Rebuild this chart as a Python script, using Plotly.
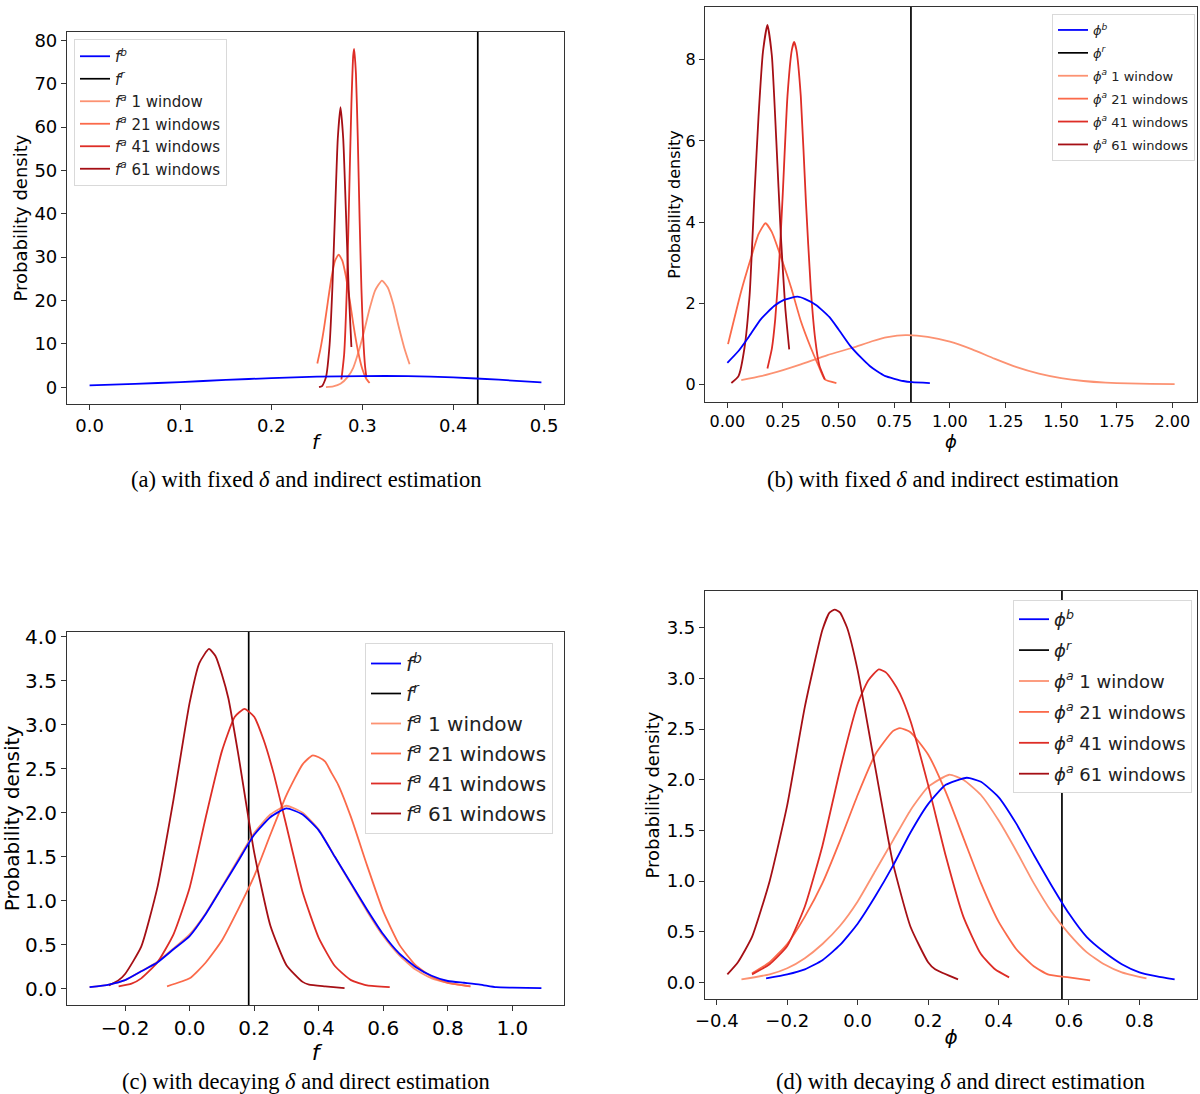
import plotly.graph_objects as go

# ---------- data ----------
# (a) fixed delta, indirect estimation: f
a_b_x = [0.0, 0.05, 0.1, 0.15, 0.2, 0.25, 0.3, 0.35, 0.4, 0.45, 0.497]
a_b_y = [0.46, 0.8, 1.2, 1.7, 2.12, 2.45, 2.6, 2.58, 2.3, 1.75, 1.15]
a_1_x = [0.26, 0.268, 0.276, 0.284, 0.29, 0.296, 0.302, 0.308, 0.314, 0.3216, 0.328, 0.334, 0.34, 0.346, 0.352]
a_1_y = [0.05, 0.2, 0.8, 2.4, 4.5, 8.3, 13.0, 18.1, 22.3, 24.6, 23.0, 19.2, 14.0, 9.2, 5.3]
a_21_x = [0.2505, 0.254, 0.258, 0.262, 0.266, 0.27, 0.274, 0.278, 0.282, 0.286, 0.29, 0.295, 0.30, 0.304, 0.308]
a_21_y = [5.5, 8.9, 13.8, 19.6, 25.2, 29.2, 30.6, 29.2, 25.5, 20.3, 14.7, 8.6, 4.2, 2.1, 1.0]
a_41_x = [0.277, 0.280, 0.283, 0.286, 0.288, 0.290, 0.291, 0.293, 0.295, 0.297, 0.299, 0.301, 0.303, 0.3045]
a_41_y = [1.8, 7.6, 22.8, 48.4, 65.3, 76.5, 78.0, 72.2, 57.6, 38.9, 22.8, 11.4, 4.9, 2.3]
a_61_x = [0.2524, 0.256, 0.26, 0.264, 0.267, 0.27, 0.273, 0.276, 0.279, 0.282, 0.285, 0.288]
a_61_y = [0.05, 0.35, 2.3, 9.8, 22.6, 40.3, 57.3, 64.6, 57.3, 40.3, 22.6, 9.3]
a_r = 0.427

# (b) fixed delta, indirect estimation: phi
b_b_x = [0.0, 0.05, 0.1, 0.15, 0.21, 0.25, 0.315, 0.35, 0.4, 0.458, 0.5, 0.553, 0.6, 0.64, 0.673, 0.71,
         0.75, 0.79, 0.83, 0.91]
b_b_y = [0.53, 0.82, 1.2, 1.6, 1.93, 2.07, 2.16, 2.1, 1.95, 1.66, 1.35, 0.94, 0.66, 0.45, 0.32, 0.2,
         0.135, 0.08, 0.05, 0.03]
b_1_x = [0.0625, 0.15, 0.25, 0.33, 0.45, 0.563, 0.65, 0.72, 0.8, 0.9, 1.0, 1.1, 1.2, 1.3, 1.4, 1.5, 1.6, 1.7, 1.8, 1.9, 2.01]
b_1_y = [0.1, 0.2, 0.35, 0.49, 0.72, 0.9, 1.06, 1.16, 1.21, 1.17, 1.05, 0.86, 0.63, 0.42, 0.26, 0.15, 0.08, 0.04, 0.02, 0.01, 0.005]
b_21_x = [0.003, 0.0625, 0.107, 0.14, 0.171, 0.2, 0.241, 0.286, 0.33, 0.375, 0.41, 0.438, 0.49]
b_21_y = [0.99, 2.3, 3.13, 3.7, 3.97, 3.75, 3.13, 2.39, 1.56, 0.9, 0.45, 0.12, 0.03]
b_41_x = [0.18, 0.2, 0.215, 0.232, 0.249, 0.27, 0.29, 0.30, 0.31, 0.33, 0.353, 0.375, 0.395, 0.413, 0.438]
b_41_y = [0.39, 0.88, 1.6, 2.9, 4.7, 7.1, 8.25, 8.44, 8.25, 7.1, 4.5, 2.35, 1.1, 0.47, 0.12]
b_61_x = [0.018, 0.05, 0.077, 0.1, 0.122, 0.14, 0.16, 0.18, 0.2, 0.22, 0.24, 0.26, 0.278]
b_61_y = [0.03, 0.2, 0.9, 2.2, 4.7, 6.6, 8.2, 8.86, 8.1, 6.0, 3.7, 1.9, 0.86]
b_r = 0.825

# (c) decaying delta, direct estimation: f
c_b_x = [-0.31, -0.25, -0.2, -0.15, -0.1, -0.05, 0.0, 0.05, 0.1, 0.15, 0.2, 0.25, 0.3, 0.35,
         0.4, 0.45, 0.5, 0.55, 0.6, 0.65, 0.7, 0.75, 0.8, 0.85, 0.9, 0.95, 1.0, 1.09]
c_b_y = [0.02, 0.05, 0.1, 0.2, 0.3, 0.45, 0.6, 0.85, 1.15, 1.45, 1.75, 1.95, 2.05, 1.98,
         1.8, 1.5, 1.2, 0.9, 0.62, 0.4, 0.25, 0.15, 0.09, 0.07, 0.05, 0.02, 0.015, 0.01]
c_1_x = [-0.31, -0.25, -0.2, -0.15, -0.1, -0.05, 0.0, 0.05, 0.1, 0.15, 0.2, 0.25, 0.3, 0.35,
         0.4, 0.45, 0.5, 0.55, 0.6, 0.65, 0.7, 0.75, 0.8, 0.87]
c_1_y = [0.02, 0.05, 0.1, 0.2, 0.31, 0.46, 0.62, 0.86, 1.16, 1.47, 1.77, 1.98, 2.08, 2.0,
         1.81, 1.5, 1.19, 0.88, 0.6, 0.38, 0.22, 0.12, 0.07, 0.03]
c_21_x = [-0.07, 0.0, 0.05, 0.1, 0.15, 0.2, 0.25, 0.3, 0.35, 0.38, 0.40, 0.42, 0.44, 0.46, 0.5, 0.55,
          0.6, 0.65, 0.7, 0.75, 0.8, 0.87]
c_21_y = [0.03, 0.12, 0.3, 0.55, 0.9, 1.28, 1.75, 2.2, 2.55, 2.65, 2.63, 2.58, 2.45, 2.32, 1.95, 1.4,
          0.88, 0.5, 0.27, 0.14, 0.07, 0.03]
c_41_x = [-0.22, -0.18, -0.15, -0.1, -0.05, 0.0, 0.05, 0.1, 0.14, 0.17, 0.2, 0.23, 0.26, 0.3,
          0.35, 0.4, 0.45, 0.5, 0.55, 0.62]
c_41_y = [0.03, 0.06, 0.12, 0.3, 0.62, 1.15, 1.95, 2.7, 3.09, 3.18, 3.09, 2.82, 2.45, 1.85,
          1.1, 0.58, 0.26, 0.1, 0.04, 0.02]
c_61_x = [-0.25, -0.22, -0.2, -0.15, -0.1, -0.05, 0.0, 0.03, 0.06, 0.08, 0.1, 0.12, 0.15, 0.2,
          0.25, 0.3, 0.35, 0.37, 0.42, 0.48]
c_61_y = [0.04, 0.1, 0.17, 0.48, 1.15, 2.15, 3.25, 3.7, 3.86, 3.78, 3.57, 3.3, 2.68, 1.55,
          0.72, 0.27, 0.08, 0.05, 0.03, 0.01]
c_r = 0.183

# (d) decaying delta, direct estimation: phi
d_b_x = [-0.26, -0.2, -0.15, -0.1, -0.05, 0.0, 0.05, 0.1, 0.15, 0.2, 0.25, 0.31, 0.35, 0.4,
         0.45, 0.5, 0.55, 0.6, 0.65, 0.7, 0.75, 0.8, 0.85, 0.9]
d_b_y = [0.04, 0.08, 0.13, 0.22, 0.37, 0.58, 0.85, 1.15, 1.48, 1.76, 1.95, 2.02, 1.98, 1.83,
         1.57, 1.26, 0.96, 0.68, 0.45, 0.3, 0.18, 0.1, 0.06, 0.03]
d_1_x = [-0.33, -0.25, -0.2, -0.15, -0.1, -0.05, 0.0, 0.05, 0.1, 0.15, 0.2, 0.26, 0.3, 0.35,
         0.4, 0.45, 0.5, 0.55, 0.6, 0.65, 0.7, 0.75, 0.82]
d_1_y = [0.03, 0.08, 0.14, 0.24, 0.38, 0.56, 0.8, 1.1, 1.4, 1.7, 1.93, 2.05, 2.0, 1.85,
         1.6, 1.3, 0.98, 0.7, 0.48, 0.3, 0.18, 0.1, 0.04]
d_21_x = [-0.3, -0.25, -0.2, -0.15, -0.1, -0.05, 0.0, 0.05, 0.1, 0.12, 0.15, 0.2, 0.25, 0.3,
          0.35, 0.4, 0.45, 0.5, 0.54, 0.6, 0.66]
d_21_y = [0.09, 0.2, 0.38, 0.65, 0.98, 1.4, 1.85, 2.25, 2.48, 2.51, 2.47, 2.25, 1.88, 1.43,
          0.98, 0.6, 0.33, 0.16, 0.08, 0.05, 0.02]
d_41_x = [-0.3, -0.25, -0.2, -0.15, -0.1, -0.05, 0.0, 0.03, 0.06, 0.08, 0.1, 0.12, 0.15, 0.2,
          0.25, 0.3, 0.35, 0.39, 0.43]
d_41_y = [0.08, 0.18, 0.36, 0.75, 1.35, 2.1, 2.75, 2.98, 3.09, 3.06, 2.97, 2.85, 2.58, 1.95,
          1.25, 0.65, 0.28, 0.13, 0.05]
d_61_x = [-0.37, -0.34, -0.3, -0.25, -0.2, -0.15, -0.1, -0.08, -0.065, -0.05, -0.03, 0.0, 0.05,
          0.1, 0.15, 0.2, 0.22, 0.285]
d_61_y = [0.08, 0.2, 0.45, 1.0, 1.75, 2.72, 3.48, 3.65, 3.68, 3.65, 3.5, 3.08, 2.12,
          1.18, 0.55, 0.2, 0.13, 0.03]
d_r = 0.58

window_labels = ["1 window", "21 windows", "41 windows", "61 windows"]
window_colors = ["#fc9272", "#fb6a4a", "#de2d26", "#a50f15"]

W, H = 1200, 1094


def pad_range(values):
    lo, hi = min(values), max(values)
    p = 0.05 * (hi - lo)
    return [lo - p, hi + p]


fig = go.Figure()

# per panel: box in px [left, right, top, bottom], font sizes, ticks, legend corner, caption
panels = [
    dict(sym="f", b=(a_b_x, a_b_y), w=[(a_1_x, a_1_y), (a_21_x, a_21_y), (a_41_x, a_41_y), (a_61_x, a_61_y)],
         r=a_r, box=[67, 564, 32, 404], fs=18, lfs=15, dx=0.1, xf=".1f", dy=10, yf="d",
         leg=dict(x=74, y=39, xanchor="left"), gap=0, ys=2,
         cap="(a) with fixed <i>δ</i> and indirect estimation", capx=306, capy=480),
    dict(sym="ϕ", b=(b_b_x, b_b_y), w=[(b_1_x, b_1_y), (b_21_x, b_21_y), (b_41_x, b_41_y), (b_61_x, b_61_y)],
         r=b_r, box=[705, 1197, 7, 402], fs=16, lfs=13, dx=0.25, xf=".2f", dy=2, yf="d",
         leg=dict(x=1195, y=14, xanchor="right"), gap=3, ys=0,
         cap="(b) with fixed <i>δ</i> and indirect estimation", capx=943, capy=480),
    dict(sym="f", b=(c_b_x, c_b_y), w=[(c_1_x, c_1_y), (c_21_x, c_21_y), (c_41_x, c_41_y), (c_61_x, c_61_y)],
         r=c_r, box=[67, 564, 632, 1005], fs=20, lfs=20, dx=0.2, xf=".1f", dy=0.5, yf=".1f",
         leg=dict(x=553, y=643, xanchor="right"), gap=1, ys=2,
         cap="(c) with decaying <i>δ</i> and direct estimation", capx=306, capy=1081),
    dict(sym="ϕ", b=(d_b_x, d_b_y), w=[(d_1_x, d_1_y), (d_21_x, d_21_y), (d_41_x, d_41_y), (d_61_x, d_61_y)],
         r=d_r, box=[705, 1197, 591, 999], fs=18, lfs=18, dx=0.2, xf=".1f", dy=0.5, yf=".1f",
         leg=dict(x=1192, y=600, xanchor="right"), gap=4.5, ys=2,
         cap="(d) with decaying <i>δ</i> and direct estimation", capx=960, capy=1081),
]

layout = {}
for i, p in enumerate(panels):
    n = "" if i == 0 else str(i + 1)
    xa, ya, lg = "x" + n, "y" + n, "legend" + n
    sym = "<i>%s</i>" % p["sym"]

    all_x = list(p["b"][0]) + [p["r"]]
    all_y = list(p["b"][1])
    for wx, wy in p["w"]:
        all_x += wx
        all_y += wy
    xr, yr = pad_range(all_x), pad_range(all_y)

    common = dict(mode="lines", xaxis=xa, yaxis=ya, legend=lg)
    fig.add_trace(go.Scatter(x=[p["r"], p["r"]], y=yr, name=sym + "<sup><i>r</i></sup>",
                             line=dict(color="black", width=1.7), legendrank=2,
                             legendgroup=lg + "r", **common))
    rank = 3
    for (wx, wy), lab, col in zip(p["w"], window_labels, window_colors):
        fig.add_trace(go.Scatter(x=wx, y=wy, name=sym + "<sup><i>a</i></sup> " + lab,
                                 line=dict(color=col, width=1.8, shape="spline", smoothing=0.5),
                                 legendrank=rank, legendgroup=lg + lab, **common))
        rank += 1
    # background curve drawn last so it sits on top where it overlaps the 1-window curve
    fig.add_trace(go.Scatter(x=p["b"][0], y=p["b"][1], name=sym + "<sup><i>b</i></sup>",
                             line=dict(color="#0000ff", width=1.8, shape="spline", smoothing=0.5),
                             legendrank=1, legendgroup=lg + "b", **common))

    l, r, t, b = p["box"]
    axis_common = dict(showline=True, mirror=True, linecolor="#333", linewidth=1.2,
                       ticks="outside", ticklen=5, tickwidth=1, tickcolor="#333",
                       showgrid=False, zeroline=False, automargin=False,
                       tickfont=dict(size=p["fs"], color="black"))
    layout["xaxis" + n] = dict(axis_common, domain=[l / W, r / W], anchor=ya, range=xr,
                               dtick=p["dx"], tick0=0, tickformat=p["xf"],
                               title=dict(text=sym, font=dict(size=p["fs"] + 2), standoff=0))
    layout["yaxis" + n] = dict(axis_common, domain=[1 - b / H, 1 - t / H], anchor=xa, range=yr,
                               dtick=p["dy"], tick0=0, tickformat=p["yf"],
                               title=dict(text="Probability density", font=dict(size=p["fs"]),
                                          standoff=p["ys"]))
    layout[lg] = dict(x=p["leg"]["x"] / W, y=1 - p["leg"]["y"] / H, xanchor=p["leg"]["xanchor"],
                      yanchor="top", bgcolor="white", bordercolor="#d9d9d9", borderwidth=1,
                      font=dict(size=p["lfs"], color="#222"), tracegroupgap=p["gap"])

    fig.add_annotation(text=p["cap"], x=p["capx"] / W, y=1 - p["capy"] / H, xref="paper", yref="paper",
                       showarrow=False, xanchor="center", yanchor="middle",
                       font=dict(family="Liberation Serif", size=22.5, color="black"))

fig.update_layout(
    width=W, height=H,
    margin=dict(l=0, r=0, t=0, b=0, autoexpand=False),
    paper_bgcolor="white", plot_bgcolor="white",
    font=dict(family="DejaVu Sans", color="black"),
    **layout,
)

# drop the browser's default body margin so the figure sits at the page origin
fig.write_html("out.html", config={"displayModeBar": False},
               post_script="document.body.style.margin = '0px';")
